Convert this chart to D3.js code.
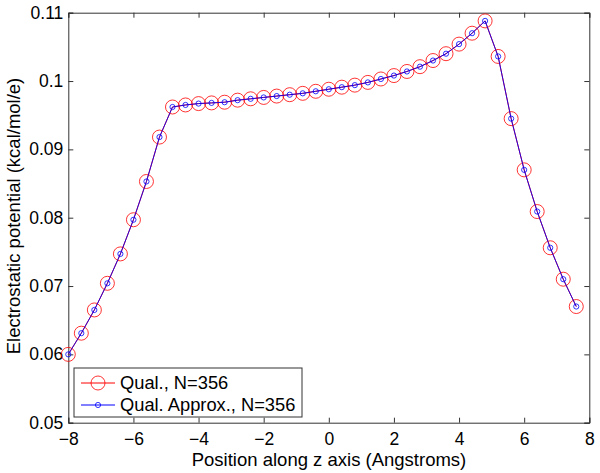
<!DOCTYPE html>
<html><head><meta charset="utf-8">
<script src="https://cdn.jsdelivr.net/npm/d3@7"></script>
<style>body{margin:0;background:#fff}svg{display:block;font-family:"Liberation Sans",Arial,sans-serif}</style>
</head><body><svg id="c" width="600" height="473"></svg>
<script>
const zPos = [-8,-7.6,-7.2,-6.8,-6.4,-6.0,-5.6,-5.2,-4.8,-4.4,-4.0,-3.6,-3.2,-2.8,-2.4,-2.0,-1.6,-1.2,-0.8,-0.4,0,0.4,0.8,1.2,1.6,2.0,2.4,2.8,3.2,3.6,4.0,4.4,4.8,5.2,5.6,6.0,6.4,6.8,7.2,7.6];
const qual = [0.0600,0.0631,0.0665,0.0704,0.0747,0.0797,0.0853,0.0918,0.0962,0.0965,0.0967,0.0968,0.0969,0.0972,0.0974,0.0976,0.0978,0.0980,0.0982,0.0985,0.0988,0.0991,0.0994,0.0998,0.1003,0.1008,0.1014,0.1021,0.1030,0.1040,0.1054,0.1070,0.1088,0.1036,0.0945,0.0870,0.0809,0.0756,0.0710,0.0670];
const approx = qual.slice();
const xTicks = [-8,-6,-4,-2,0,2,4,6,8];
const yTicks = [0.05,0.06,0.07,0.08,0.09,0.1,0.11];
const legendLabels = ["Qual., N=356","Qual. Approx., N=356"];

const svg = d3.select("#c");
const L=68.3,R=589.3,T=12.7,B=422.7;
const x = d3.scaleLinear().domain([-8,8]).range([L,R]);
const y = d3.scaleLinear().domain([0.05,0.11]).range([B,T]);
const axCol="#333";
const fmtY = v => (+v.toFixed(2)).toString();

const gx = svg.append("g").attr("transform",`translate(0,${B})`)
  .call(d3.axisBottom(x).tickValues(xTicks).tickSize(-5).tickPadding(10).tickFormat(d=>d<0?"\u2212"+(-d):d));
const gxt = svg.append("g").attr("transform",`translate(0,${T})`)
  .call(d3.axisTop(x).tickValues(xTicks).tickSize(-5).tickFormat(""));
const gy = svg.append("g").attr("transform",`translate(${L},0)`)
  .call(d3.axisLeft(y).tickValues(yTicks).tickSize(-5).tickPadding(5).tickFormat(d=>fmtY(d)));
const gyr = svg.append("g").attr("transform",`translate(${R},0)`)
  .call(d3.axisRight(y).tickValues(yTicks).tickSize(-5).tickFormat(""));
[gx,gxt,gy,gyr].forEach(g=>{
  g.selectAll(".domain").attr("stroke",axCol);
  g.selectAll(".tick line").attr("stroke",axCol);
  g.selectAll(".tick text").attr("fill","#000").attr("font-size",17.5).attr("font-family","Liberation Sans, Arial, sans-serif");
});
gx.selectAll(".tick text").attr("dy","0.71em");

const line = (arr)=>d3.line().x((d,i)=>x(zPos[i])).y(d=>y(d))(arr);
svg.append("path").attr("d",line(qual)).attr("fill","none").attr("stroke","#ff0000").attr("stroke-width",1);
svg.append("g").selectAll("circle").data(qual).join("circle")
  .attr("cx",(d,i)=>x(zPos[i])).attr("cy",d=>y(d)).attr("r",7).attr("fill","none").attr("stroke","#ff0000").attr("stroke-width",0.8);
svg.append("path").attr("d",line(approx)).attr("fill","none").attr("stroke","#0000ff").attr("stroke-width",1).attr("opacity",0.85);
svg.append("g").selectAll("circle").data(approx).join("circle")
  .attr("cx",(d,i)=>x(zPos[i])).attr("cy",d=>y(d)).attr("r",2.6).attr("fill","none").attr("stroke","#0000ff").attr("stroke-width",0.8);

const lg = svg.append("g");
lg.append("rect").attr("x",74).attr("y",368).attr("width",228).attr("height",49).attr("fill","#fff").attr("stroke",axCol).attr("stroke-width",1);
const rows=[{c:"#ff0000",r:7,ty:383},{c:"#0000ff",r:2.6,ty:405}];
rows.forEach((rw,i)=>{
  lg.append("line").attr("x1",81).attr("x2",115).attr("y1",rw.ty).attr("y2",rw.ty).attr("stroke",rw.c).attr("stroke-width",1);
  lg.append("circle").attr("cx",98).attr("cy",rw.ty).attr("r",rw.r).attr("fill","none").attr("stroke",rw.c).attr("stroke-width",0.8);
  lg.append("text").attr("x",120).attr("y",rw.ty).attr("dy","0.35em").attr("font-size",18.3).text(legendLabels[i]);
});

svg.append("text").attr("x",329).attr("y",466).attr("text-anchor","middle").attr("font-size",18.5).text("Position along z axis (Angstroms)");
svg.append("text").attr("transform",`translate(20,216) rotate(-90)`).attr("text-anchor","middle").attr("font-size",18.5).text("Electrostatic potential (kcal/mol/e)");
</script></body></html>
